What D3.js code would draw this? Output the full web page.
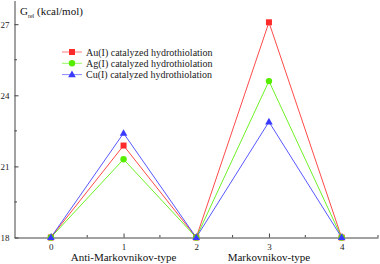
<!DOCTYPE html>
<html>
<head>
<meta charset="utf-8">
<script src="https://cdn.jsdelivr.net/npm/d3@7"></script>
<style>
  body { margin: 0; background: #fff; }
  svg { display: block; font-family: "Liberation Serif", "Times New Roman", serif; }
</style>
</head>
<body>
<svg id="chart"></svg>
<script>
// Reaction coordinate positions and relative free energies (kcal/mol)
const steps = [0, 1, 2, 3, 4];
const auValues = [18, 21.88, 18, 27.08, 18];
const agValues = [18, 21.3, 18, 24.6, 18];
const cuValues = [18, 22.4, 18, 22.88, 18];
const seriesNames = [
  'Au(I) catalyzed hydrothiolation',
  'Ag(I) catalyzed hydrothiolation',
  'Cu(I) catalyzed hydrothiolation'
];
const yTicks = [18, 21, 24, 27];
const yMinorTicks = [19.5, 22.5, 25.5];
const xMinorTicks = [0.5, 1.5, 2.5, 3.5, 4.5];
const groupLabels = [
  { x: 1, text: 'Anti-Markovnikov-type' },
  { x: 3, text: 'Markovnikov-type' }
];

const width = 380, height = 264;
const svg = d3.select('#chart').attr('width', width).attr('height', height);

const xScale = d3.scaleLinear().domain([-0.5, 4.5]).range([14.5, 378]);
const yScale = d3.scaleLinear().domain([18, 28]).range([237.5, 0.5]);

const axisColor = '#444';
const serif = '"Liberation Serif", serif';

// y axis: labels on left, ticks pointing inward
const yAxisG = svg.append('g')
  .attr('transform', `translate(${xScale(-0.5)},0)`)
  .call(d3.axisRight(yScale).tickValues(yTicks).tickFormat(d3.format('d')).tickSize(4).tickSizeOuter(0))
  .attr('font-family', serif);
yAxisG.select('.domain').attr('stroke', axisColor);
yAxisG.selectAll('.tick line').attr('stroke', axisColor);
yAxisG.selectAll('.tick text')
  .attr('x', -5)
  .attr('text-anchor', 'end')
  .attr('fill', '#222')
  .style('font-size', '9px');
yAxisG.selectAll('.minor')
  .data(yMinorTicks)
  .join('line')
  .attr('class', 'minor')
  .attr('x1', 0).attr('x2', 2.5)
  .attr('y1', d => yScale(d)).attr('y2', d => yScale(d))
  .attr('stroke', axisColor);

// x axis: ticks pointing up into the plot
const xAxisG = svg.append('g')
  .attr('transform', `translate(0,${yScale(18)})`)
  .call(d3.axisTop(xScale).tickValues(steps).tickFormat(d3.format('d')).tickSize(4).tickSizeOuter(0))
  .attr('font-family', serif);
xAxisG.select('.domain').attr('stroke', axisColor);
xAxisG.selectAll('.tick line').attr('stroke', axisColor);
xAxisG.selectAll('.tick text')
  .attr('y', 12)
  .attr('dy', 0)
  .attr('fill', '#222')
  .style('font-size', '9px');
xAxisG.selectAll('.minor')
  .data(xMinorTicks)
  .join('line')
  .attr('class', 'minor')
  .attr('x1', d => xScale(d)).attr('x2', d => xScale(d))
  .attr('y1', 0).attr('y2', -2.5)
  .attr('stroke', axisColor);

// group labels under x axis
svg.selectAll('.group-label')
  .data(groupLabels)
  .join('text')
  .attr('class', 'group-label')
  .attr('x', d => xScale(d.x))
  .attr('y', 261)
  .attr('text-anchor', 'middle')
  .attr('fill', '#111')
  .style('font-size', '11px')
  .text(d => d.text);

// y axis title with subscript
const title = svg.append('text')
  .attr('x', 20)
  .attr('y', 15)
  .attr('fill', '#111')
  .style('font-size', '11px');
title.append('tspan').text('G');
title.append('tspan').attr('dy', 3).style('font-size', '6px').text('rel');
title.append('tspan').attr('dy', -3).text(' (kcal/mol)');

const series = [
  { name: seriesNames[0], values: auValues, color: '#ff2a2a', marker: 'square' },
  { name: seriesNames[1], values: agValues, color: '#55ee00', marker: 'circle' },
  { name: seriesNames[2], values: cuValues, color: '#3a3aff', marker: 'triangle' }
];

const line = d3.line()
  .x((d, i) => xScale(steps[i]))
  .y(d => yScale(d));

function drawMarker(g, type, x, y, color) {
  if (type === 'square') {
    g.append('rect')
      .attr('x', x - 3).attr('y', y - 3)
      .attr('width', 6).attr('height', 6)
      .attr('fill', color);
  } else if (type === 'circle') {
    g.append('circle')
      .attr('cx', x).attr('cy', y).attr('r', 3.2)
      .attr('fill', color);
  } else {
    g.append('path')
      .attr('d', `M${x},${y - 4} L${x + 3.8},${y + 2.6} L${x - 3.8},${y + 2.6} Z`)
      .attr('fill', color);
  }
}

const plot = svg.append('g');
series.forEach(s => {
  plot.append('path')
    .datum(s.values)
    .attr('d', line)
    .attr('fill', 'none')
    .attr('stroke', s.color)
    .attr('stroke-width', 1)
    .attr('stroke-opacity', 0.85);
});
series.forEach(s => {
  const g = plot.append('g');
  s.values.forEach((v, i) => drawMarker(g, s.marker, xScale(steps[i]), yScale(v), s.color));
});

// legend
const legend = svg.append('g');
series.forEach((s, i) => {
  const y = 52 + i * 11.3;
  legend.append('line')
    .attr('x1', 62).attr('x2', 82)
    .attr('y1', y).attr('y2', y)
    .attr('stroke', s.color)
    .attr('stroke-opacity', 0.6);
  drawMarker(legend, s.marker, 72, y, s.color);
  legend.append('text')
    .attr('x', 86)
    .attr('y', y + 3.5)
    .attr('fill', '#222')
    .style('font-size', '10px')
    .text(s.name);
});
</script>
</body>
</html>
